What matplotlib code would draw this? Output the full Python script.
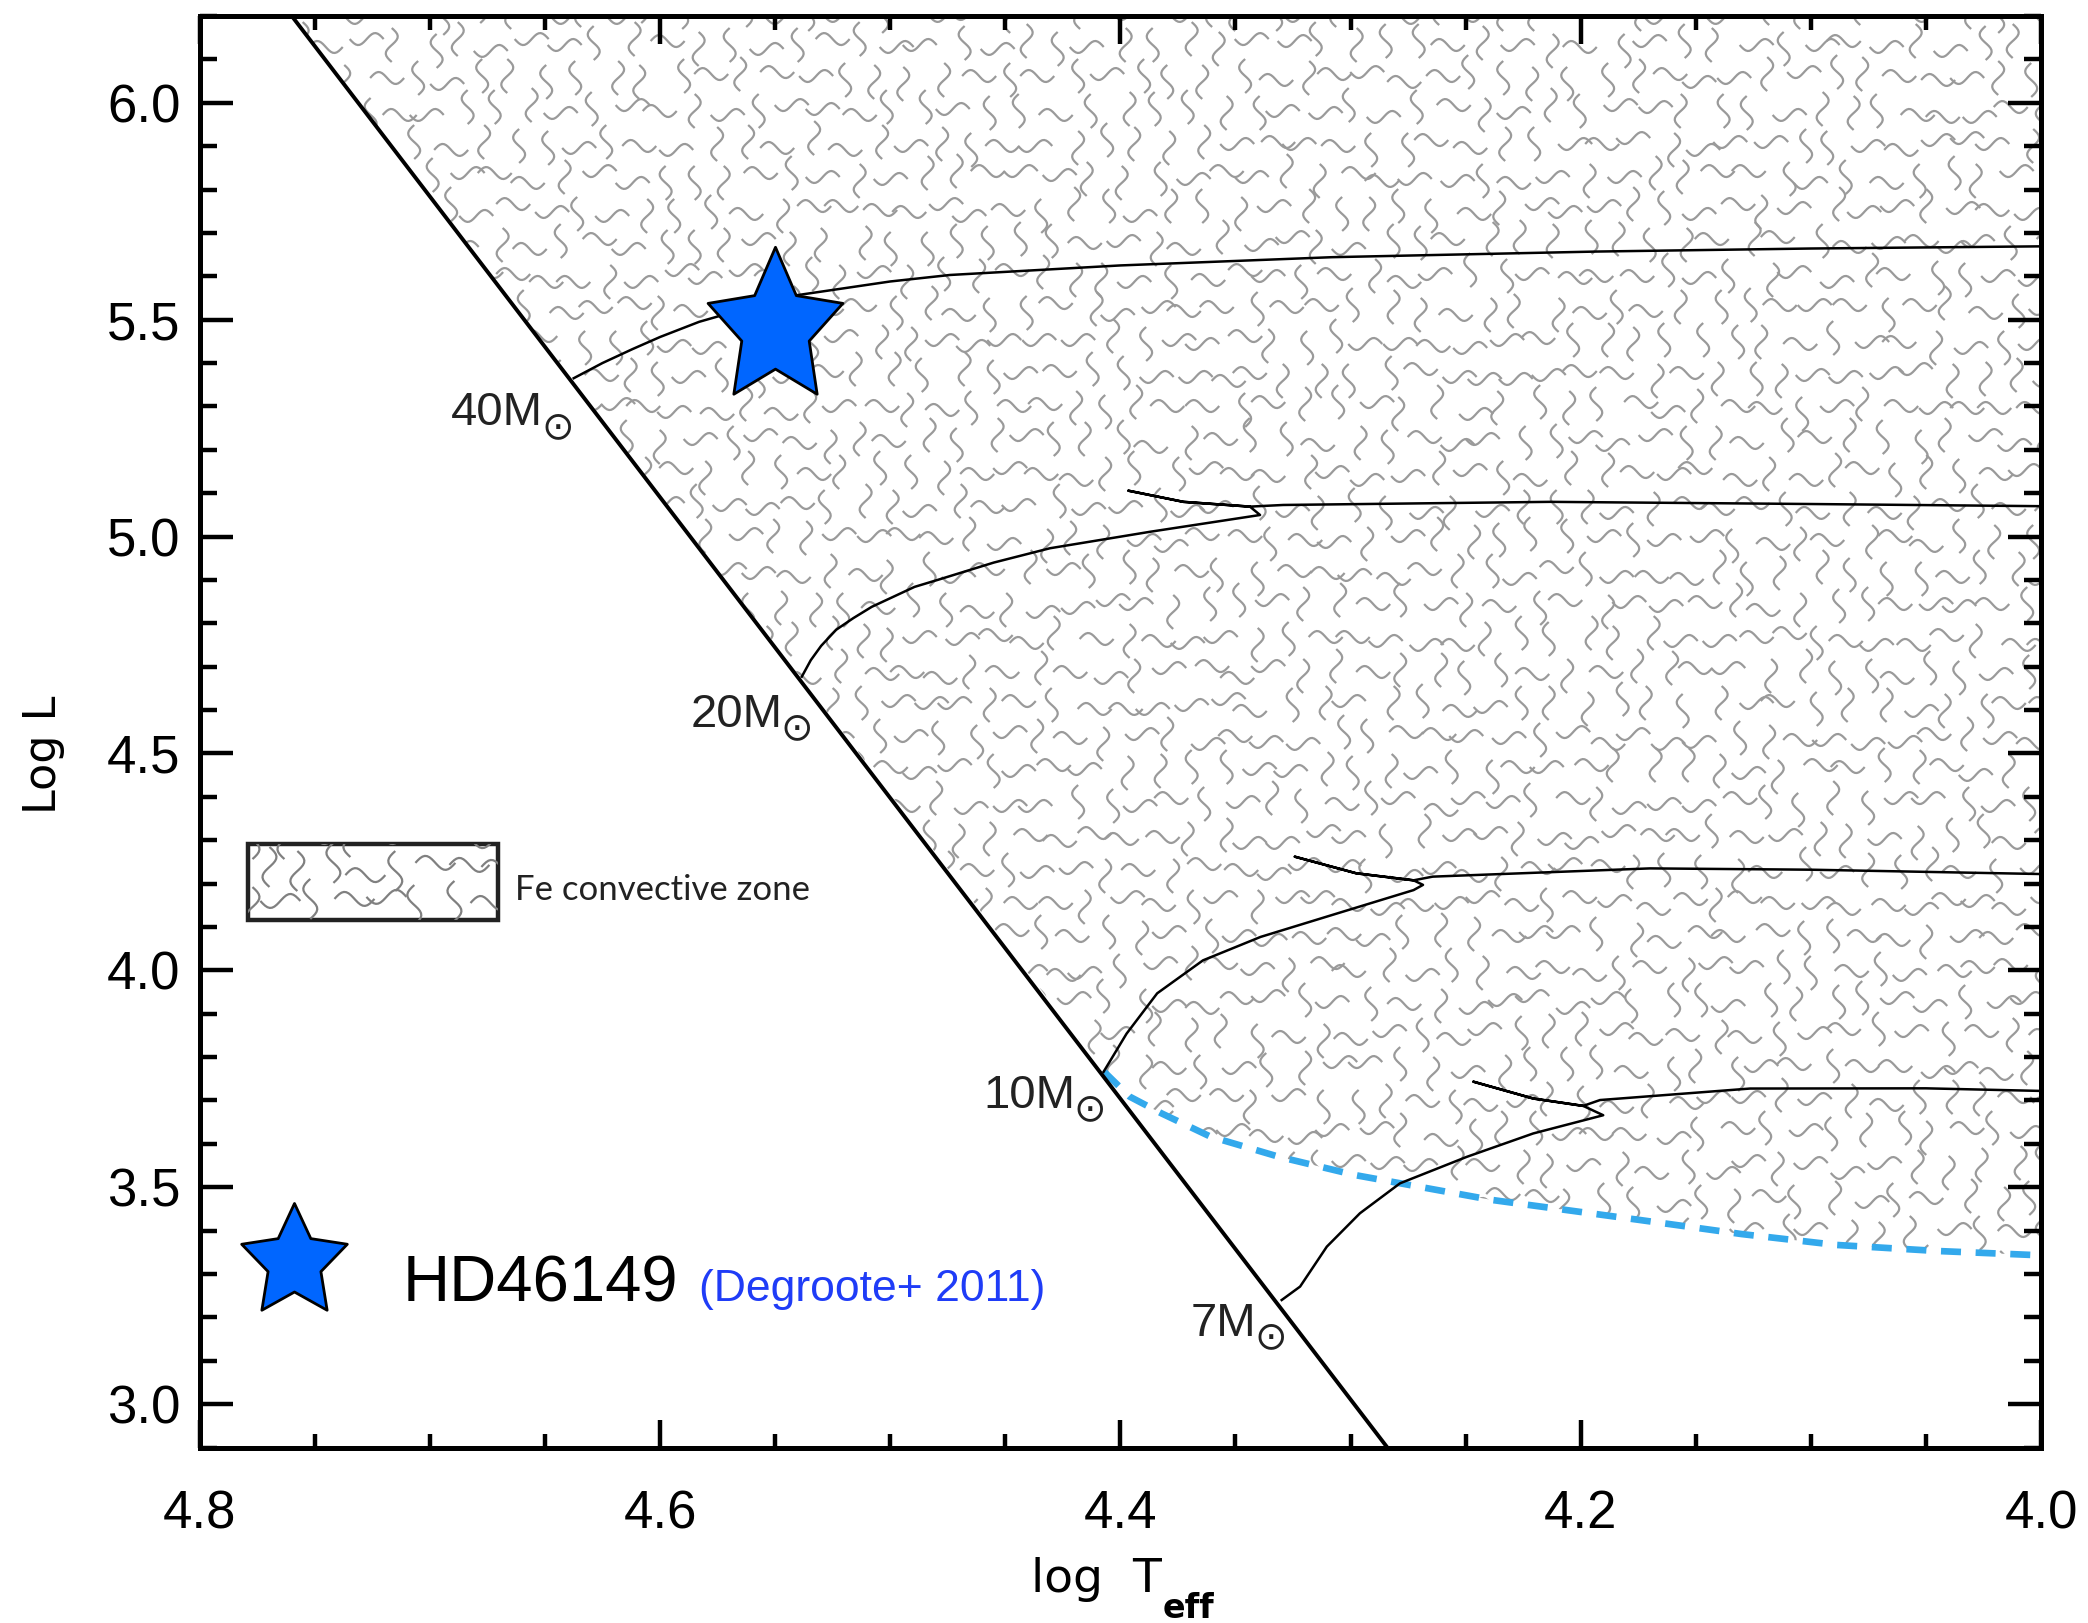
import numpy as np
import matplotlib.pyplot as plt
from matplotlib.collections import LineCollection
from matplotlib.patches import Polygon, Rectangle
from matplotlib.path import Path
from matplotlib.ticker import MultipleLocator, FormatStrFormatter

plt.rcParams["font.family"] = ["Liberation Sans", "DejaVu Sans"]
plt.rcParams["mathtext.fontset"] = "dejavusans"

# zero-age main sequence
zams_logt = [4.760, 4.284]
zams_logl = [6.2, 2.9]

# evolutionary tracks
track_labels = ["40", "20", "10", "7"]
t40_logt = [4.6375, 4.625, 4.612, 4.600, 4.583, 4.560, 4.541, 4.500, 4.474, 4.40, 4.308, 4.193, 4.10, 4.0]
t40_logl = [5.365, 5.400, 5.432, 5.460, 5.495, 5.530, 5.556, 5.588, 5.603, 5.625, 5.644, 5.657, 5.664, 5.669]
t20_logt = [4.5384, 4.5345, 4.530, 4.5235, 4.516, 4.508, 4.4894, 4.4794, 4.455, 4.4306, 4.3871, 4.3393,
            4.3437, 4.3726, 4.3965, 4.3726, 4.3437, 4.3292, 4.2133, 4.10, 4.0]
t20_logl = [4.677, 4.715, 4.748, 4.785, 4.812, 4.838, 4.884, 4.900, 4.94, 4.973, 5.011, 5.0497,
            5.069, 5.080, 5.1057, 5.080, 5.069, 5.0728, 5.080, 5.075, 5.070]
t10_logt = [4.4073, 4.3973, 4.3840, 4.3641, 4.3391, 4.3059, 4.2726, 4.2685, 4.2726, 4.2975, 4.3242,
            4.2975, 4.2726, 4.2643, 4.1699, 4.10, 4.0]
t10_logl = [3.766, 3.854, 3.947, 4.023, 4.077, 4.131, 4.185, 4.197, 4.2075, 4.2237, 4.262,
            4.2237, 4.2075, 4.216, 4.235, 4.232, 4.222]
t7_logt = [4.3299, 4.3219, 4.3103, 4.2959, 4.2785, 4.2495, 4.2206, 4.1902, 4.1989, 4.2206, 4.2466,
           4.2206, 4.1989, 4.1916, 4.1264, 4.05, 4.0]
t7_logl = [3.240, 3.271, 3.363, 3.440, 3.509, 3.570, 3.624, 3.666, 3.6875, 3.7045, 3.7433,
           3.7045, 3.6875, 3.701, 3.7275, 3.728, 3.722]

# lower edge of the Fe convective zone
fe_logt = [4.407, 4.396, 4.382, 4.361, 4.331, 4.298, 4.239, 4.175, 4.130, 4.089, 4.045, 4.000]
fe_logl = [3.766, 3.709, 3.670, 3.617, 3.570, 3.528, 3.471, 3.425, 3.392, 3.367, 3.353, 3.343]

# HD46149
star_logt = [4.550]
star_logl = [5.48]

fig = plt.figure(figsize=(10.44, 8.115), dpi=200)
ax = fig.add_axes([0.09564, 0.10813, 0.88185, 0.88201])
ax.set_xlim(4.8, 4.0)
ax.set_ylim(2.9, 6.2)

W = fig.get_figwidth() * fig.dpi * 0.88185
H = fig.get_figheight() * fig.dpi * 0.88201


def squiggles(x0, y0, x1, y1, cell, length, amp, seed):
    # wavy texture, in pixels from the axes corner, returned in axes fraction
    t = np.linspace(0, 1, 18)
    segs = []
    for j in range(int((y1 - y0) / cell) + 2):
        for i in range(int((x1 - x0) / cell) + 2):
            h = ((i + 3) * 73856093 ^ (j + 7) * 19349663 ^ seed * 83492791) % 9973
            cx = x0 + (i + 0.5 * (j % 2)) * cell + (h % 7 - 3) * cell * 0.06
            cy = y0 + (j + 0.5) * cell + ((h // 7) % 7 - 3) * cell * 0.06
            along = (t - 0.5) * length
            across = amp * np.sin(2 * np.pi * t) * (1 if (h // 49) % 2 else -1)
            if (h // 98) % 2:
                xs, ys = cx + along, cy + across
            else:
                xs, ys = cx + across, cy + along
            segs.append(np.column_stack([xs / W, ys / H]))
    return segs


zone = Polygon([(zams_logt[0], zams_logl[0])] + list(zip(fe_logt, fe_logl)) + [(4.0, 6.2)],
               closed=True, fc="none", ec="none")
ax.add_patch(zone)
lc = LineCollection(squiggles(0, 0, W, H, 33, 34, 6, 1), colors="#9a9a9a", linewidths=0.8,
                    transform=ax.transAxes, zorder=1)
ax.add_collection(lc)
lc.set_clip_path(zone)

ax.plot(fe_logt, fe_logl, color="#33a9ec", lw=2.4, dashes=(3, 2.2), zorder=3)

tracks = [(t40_logt, t40_logl), (t20_logt, t20_logl), (t10_logt, t10_logl), (t7_logt, t7_logl)]
offsets = [(0, -17), (4, -18), (1, -13), (2, -13)]
for (lt, ll), lab, (ox, oy) in zip(tracks, track_labels, offsets):
    ax.plot(lt, ll, color="black", lw=0.9, zorder=4)
    ax.annotate(lab + "M", (lt[0], ll[0]), xytext=(ox - 11, oy), textcoords="offset points",
                ha="right", va="baseline", fontsize=17, color="#222222")
    ax.annotate("\u2299", (lt[0], ll[0]), xytext=(ox, oy - 4.5), textcoords="offset points",
                ha="right", va="baseline", fontsize=14, color="#222222", family="DejaVu Sans")

ax.plot(zams_logt, zams_logl, color="black", lw=1.4, zorder=5)


def star_path(stretch):
    ang = np.deg2rad(90 + 36 * np.arange(10))
    r = np.where(np.arange(10) % 2 == 0, 1.0, 0.5)
    v = np.column_stack([r * np.cos(ang), r * np.sin(ang) * stretch])
    return Path(np.vstack([v, v[:1]]), closed=True)


ax.plot(star_logt, star_logl, marker=star_path(1.146), ms=58.5, mfc="#0066ff", mec="black",
        mew=1.0, ls="none", zorder=6)

# legend for the star
ax.plot([4.759], [3.327], marker=star_path(1.063), ms=42.5, mfc="#0066ff", mec="black",
        mew=1.0, ls="none", zorder=6)
ax.text(4.712, 3.237, "HD46149", fontsize=23.5, ha="left", va="baseline", zorder=6)
ax.text(4.583, 3.237, "(Degroote+ 2011)", fontsize=16, color="#1f3cf7", ha="left", va="baseline",
        zorder=6)

# legend for the convective zone
bx0, by0, bx1, by1 = 0.02645, 0.3685, 0.1620, 0.4216
box = Rectangle((bx0, by0), bx1 - bx0, by1 - by0, transform=ax.transAxes, fc="white",
                ec="#222222", lw=1.6, zorder=2)
ax.add_patch(box)
lc2 = LineCollection(squiggles(bx0 * W, by0 * H, bx1 * W, by1 * H, 34, 40, 7, 2), colors="#808080",
                     linewidths=0.8, transform=ax.transAxes, zorder=2)
ax.add_collection(lc2)
lc2.set_clip_path(box.get_path(), box.get_transform())
ax.text(0.1712, 0.3825, "Fe convective zone", transform=ax.transAxes, fontsize=12.5,
        family=["Lato", "DejaVu Sans"], color="#222222", ha="left", va="baseline")

ax.xaxis.set_major_locator(MultipleLocator(0.2))
ax.xaxis.set_minor_locator(MultipleLocator(0.05))
ax.yaxis.set_major_locator(MultipleLocator(0.5))
ax.yaxis.set_minor_locator(MultipleLocator(0.1))
ax.xaxis.set_major_formatter(FormatStrFormatter("%.1f"))
ax.yaxis.set_major_formatter(FormatStrFormatter("%.1f"))
ax.tick_params(which="both", direction="in", top=True, right=True, width=1.6, labelsize=19)
ax.tick_params(axis="x", which="major", length=10, pad=15)
ax.tick_params(axis="x", which="minor", length=5)
ax.tick_params(axis="y", which="major", length=12, pad=7)
ax.tick_params(axis="y", which="minor", length=6)
for s in ax.spines.values():
    s.set_linewidth(1.8)

fig.text(0.0206, 0.5348, "Log L", rotation=90, ha="center", va="center", fontsize=16,
         family="DejaVu Sans")
fig.text(0.5564, 0.0193, "log  T", ha="right", va="baseline", fontsize=17, family="DejaVu Sans")
fig.text(0.5566, 0.003, "eff", ha="left", va="baseline", fontsize=12, fontweight="bold",
         family="DejaVu Sans")

fig.savefig("out.png", dpi=200)
